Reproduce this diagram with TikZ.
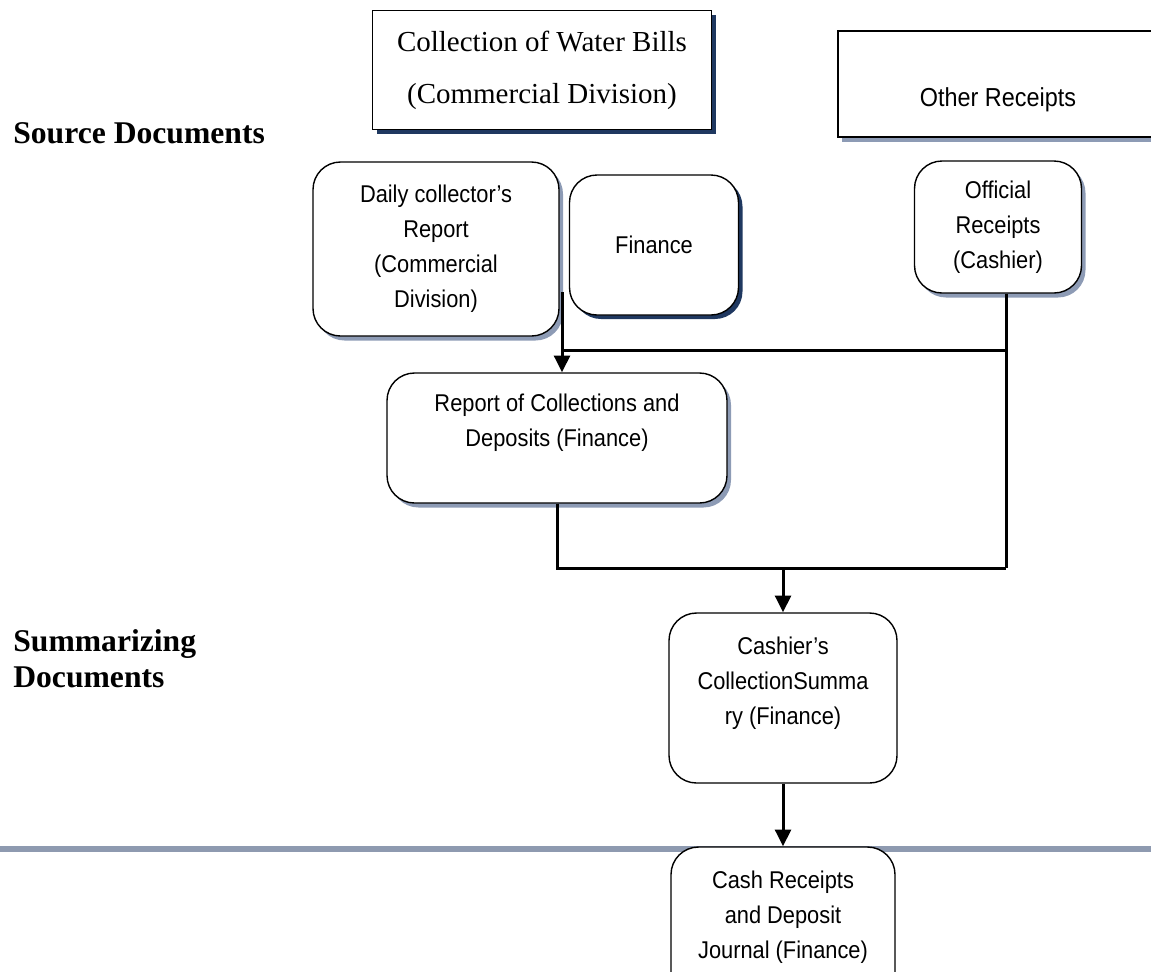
\documentclass[tikz,border=0pt]{standalone}
\usepackage{fontspec}
\setmainfont{Liberation Serif}
\newfontfamily\boxfont[FakeStretch=0.9]{Liberation Sans}
\usetikzlibrary{arrows.meta,shadows}

\definecolor{shadownavy}{RGB}{31,56,96}
\definecolor{shadowgrey}{RGB}{141,155,181}
\definecolor{rulegrey}{RGB}{142,154,176}

\def\px{0.02cm}

\begin{document}
\begin{tikzpicture}[x=\px, y=-\px, >={Triangle[width=9pt,length=9.5pt]},
	docbox/.style={draw, fill=white, line width=0.8pt, rounded corners=0.55cm, align=center,
		font=\boxfont\fontsize{13.8}{20}\selectfont, inner sep=0pt},
	headbox/.style={draw, fill=white, line width=0.8pt, align=center, inner sep=0pt},
	darkshadow/.style={drop shadow={shadow xshift=0.08cm, shadow yshift=-0.08cm, fill=shadownavy, opacity=1}},
	lightshadow/.style={drop shadow={shadow xshift=0.08cm, shadow yshift=-0.09cm, fill=shadowgrey, opacity=1}},
	flow/.style={line width=1.7pt},
	sidelabel/.style={align=left, font=\bfseries\fontsize{18}{20.5}\selectfont, inner sep=0pt}]
	
	% page frame
	\useasboundingbox (0,0) rectangle (1151,971);
	
	% headers
	\node[headbox, darkshadow, minimum width=339*\px, minimum height=119*\px,
		font=\fontsize{16.5}{29.6}\selectfont] (water) at (542,70) {Collection of Water Bills\\(Commercial Division)};
	\node[headbox, lightshadow, minimum width=320*\px, minimum height=106*\px,
		font=\boxfont\fontsize{14.8}{20}\selectfont] (other) at (998,84) {\mbox{}\\[9pt]Other Receipts};
	
	% side labels
	\node[sidelabel, anchor=base west] (srclabel) at (13,143) {Source Documents};
	\node[sidelabel, anchor=west] (sumlabel) at (13,659) {Summarizing\\Documents};
	
	% source documents
	\node[docbox, lightshadow, minimum width=246*\px, minimum height=174*\px] (daily) at (436,249)
		{Daily collector’s\\Report\\(Commercial\\Division)};
	\node[docbox, darkshadow, minimum width=169*\px, minimum height=140*\px] (finance) at (654,245) {Finance};
	\node[docbox, lightshadow, minimum width=167*\px, minimum height=132*\px] (official) at (998,227)
		{Official\\Receipts\\(Cashier)};
	\node[docbox, lightshadow, minimum width=340*\px, minimum height=130*\px] (report) at (557,438)
		{Report of Collections and\\Deposits (Finance)\\\mbox{}};
	
	% summarizing documents
	\node[docbox, minimum width=228*\px, minimum height=170*\px] (cashier) at (783,698)
		{Cashier’s\\CollectionSumma\\ry (Finance)\\\mbox{}};
	
	% divider
	\draw[rulegrey, line width=3.2pt] (0,849) -- (1151,849);
	
	\node[docbox, minimum width=224*\px, minimum height=170*\px] (cash) at (783,932)
		{Cash Receipts\\and Deposit\\Journal (Finance)\\\mbox{}};
	
	% junction points
	\coordinate (dailyout) at (562,292);
	\coordinate (junctop) at (1006,350);
	\coordinate (juncbot) at (1006,568);
	
	% connectors
	\draw[flow, ->] (dailyout) -- (dailyout |- report.north);
	\draw[flow] (dailyout |- junctop) -- (junctop);
	\draw[flow] (official.south -| junctop) -- (juncbot);
	\draw[flow] (report.south) |- (juncbot);
	\draw[flow, ->] (cashier.north |- juncbot) -- (cashier.north);
	\draw[flow, ->] (cashier.south) -- (cash.north);
	
\end{tikzpicture}
\end{document}
